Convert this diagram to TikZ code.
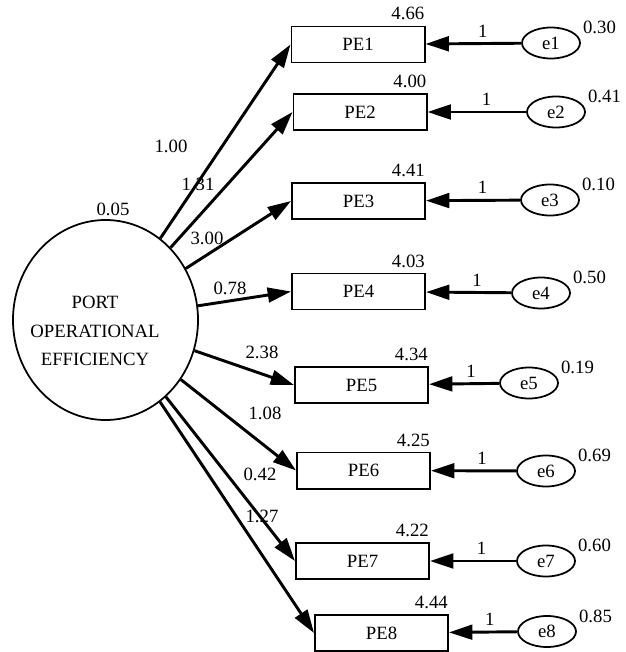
\documentclass[tikz,border=0pt]{standalone}
\usepackage{fontspec}
\setmainfont{Liberation Serif}
\usetikzlibrary{arrows.meta,positioning,shapes.geometric}

\begin{document}
\begin{tikzpicture}[x=0.03cm,y=-0.03cm,font=\fontsize{16}{19}\selectfont]
  %----- styles
  \tikzset{
    obs/.style   ={draw,line width=1.7pt,minimum width=3.99cm,minimum height=1.08cm,inner sep=0pt},
    err/.style   ={draw,ellipse,line width=1.5pt,minimum width=1.74cm,minimum height=0.93cm,inner sep=0pt},
    latent/.style={draw,ellipse,line width=1.5pt,minimum width=5.55cm,minimum height=6cm,inner sep=0pt},
    num/.style   ={inner sep=0pt},
    mean/.style  ={num,anchor=south east},
    var/.style   ={num,anchor=south west},
    one/.style   ={num,pos=0.4,above=1.5mm},
    arrow/.style ={-{Triangle[length=7mm,width=4.4mm]},line width=2.5pt}
  }
  \useasboundingbox (0,0) rectangle (626,652);

  %----- nodes
  % latent variable
  \node[latent] (poe) at (105.5,320) {};
  \node[align=center,font=\fontsize{16}{24.3}\selectfont] (poetxt) at (95,331) {PORT\\OPERATIONAL\\EFFICIENCY};
  \node[num] (poevar) at (113,209) {0.05};

  % observed items
  \node[obs] (pe1) at (358,44.5) {PE1};
  \node[obs] (pe2) at (360,112)  {PE2};
  \node[obs] (pe3) at (358.5,201) {PE3};
  \node[obs] (pe4) at (358.5,291.5) {PE4};
  \node[obs] (pe5) at (361.5,385) {PE5};
  \node[obs] (pe6) at (363.5,470.5) {PE6};
  \node[obs] (pe7) at (362.5,561) {PE7};
  \node[obs] (pe8) at (381.5,633) {PE8};

  % intercepts
  \node[mean] (m1) at ([shift={(-1,-5)}]pe1.north east) {4.66};
  \node[mean] (m2) at ([shift={(-1,-5)}]pe2.north east) {4.00};
  \node[mean] (m3) at ([shift={(-1,-5)}]pe3.north east) {4.41};
  \node[mean] (m4) at ([shift={(-1,-5)}]pe4.north east) {4.03};
  \node[mean] (m5) at ([shift={(-1,-5)}]pe5.north east) {4.34};
  \node[mean] (m6) at ([shift={(-1,-5)}]pe6.north east) {4.25};
  \node[mean] (m7) at ([shift={(-1,-5)}]pe7.north east) {4.22};
  \node[mean] (m8) at ([shift={(-1,-5)}]pe8.north east) {4.44};

  % error terms
  \node[err] (e1) at (551,43)    {e1};
  \node[err] (e2) at (556,112)   {e2};
  \node[err] (e3) at (550,200)   {e3};
  \node[err] (e4) at (541,293)   {e4};
  \node[err] (e5) at (529,383)   {e5};
  \node[err] (e6) at (546,471)   {e6};
  \node[err] (e7) at (546,561)   {e7};
  \node[err] (e8) at (547,631.5) {e8};

  % error variances
  \node[var] (v1) at ([shift={(2,-9)}]e1.east) {0.30};
  \node[var] (v2) at ([shift={(2,-9)}]e2.east) {0.41};
  \node[var] (v3) at ([shift={(2,-9)}]e3.east) {0.10};
  \node[var] (v4) at ([shift={(2,-9)}]e4.east) {0.50};
  \node[var] (v5) at ([shift={(2,-9)}]e5.east) {0.19};
  \node[var] (v6) at ([shift={(2,-9)}]e6.east) {0.69};
  \node[var] (v7) at ([shift={(2,-9)}]e7.east) {0.60};
  \node[var] (v8) at ([shift={(2,-9)}]e8.east) {0.85};

  % loadings
  \node[num] (w1) at (171,146) {1.00};
  \node[num] (w2) at (198,184) {1.31};
  \node[num] (w3) at (207,238) {3.00};
  \node[num] (w4) at (230,288) {0.78};
  \node[num] (w5) at (262,352) {2.38};
  \node[num] (w6) at (265,413) {1.08};
  \node[num] (w7) at (260,474) {0.42};
  \node[num] (w8) at (262,516) {1.27};

  %----- connections
  \draw[arrow] (poe) -- (pe1.west);
  \draw[arrow] (poe) -- (pe2.west);
  \draw[arrow] (poe) -- (pe3.west);
  \draw[arrow] (poe) -- (pe4.west);
  \draw[arrow] (poe) -- (pe5.west);
  \draw[arrow] (poe) -- (pe6.west);
  \draw[arrow] (poe) -- (pe7.west);
  \draw[arrow] (poe) -- (pe8.west);

  \draw[arrow] (e1) -- node[one] (f1) {1} (pe1);
  \draw[arrow] (e2) -- node[one] (f2) {1} (pe2);
  \draw[arrow] (e3) -- node[one] (f3) {1} (pe3);
  \draw[arrow] (e4) -- node[one] (f4) {1} (pe4);
  \draw[arrow] (e5) -- node[one] (f5) {1} (pe5);
  \draw[arrow] (e6) -- node[one] (f6) {1} (pe6);
  \draw[arrow] (e7) -- node[one] (f7) {1} (pe7);
  \draw[arrow] (e8) -- node[one] (f8) {1} (pe8);
\end{tikzpicture}
\end{document}
